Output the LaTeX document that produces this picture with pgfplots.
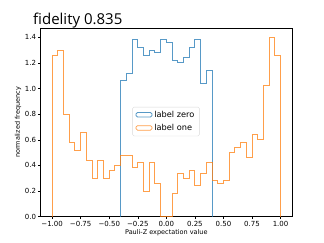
\documentclass[border=0pt]{standalone}
\usepackage{pgfplots}
\pgfplotsset{compat=1.18}
\usepackage{fontspec}
\setmainfont{DejaVu Sans}
\newfontfamily\titlefont{Open Sans}
\definecolor{tabblue}{HTML}{1F77B4}
\definecolor{taborange}{HTML}{FF7F0E}
\begin{document}
\begin{tikzpicture}
\begin{axis}[
  name=ax,
  at={(0,0)}, anchor=south west,
  scale only axis,
  width=251.3pt, height=188.4pt,
  xmin=-1.1, xmax=1.1, ymin=0, ymax=1.47,
  axis line style={black, line width=0.5pt},
  tick align=outside, tick pos=left,
  major tick length=2.5pt,
  every tick/.style={black, line width=0.5pt},
  xtick={-1,-0.75,-0.5,-0.25,0,0.25,0.5,0.75,1},
  xticklabels={−1.00,−0.75,−0.50,−0.25,0.00,0.25,0.50,0.75,1.00},
  ytick={0,0.2,0.4,0.6,0.8,1.0,1.2,1.4},
  yticklabels={0.0,0.2,0.4,0.6,0.8,1.0,1.2,1.4},
  tick label style={font=\fontsize{7}{8}\selectfont},
  xticklabel style={inner sep=1pt, yshift=-0.5pt},
  yticklabel style={inner sep=1pt, xshift=-1pt},
  xlabel={Pauli-Z expectation value},
  ylabel={normalized frequency},
  every axis x label/.style={at={(axis description cs:0.5,-0.0865)}, anchor=center, font=\fontsize{6.5}{8}\selectfont},
  every axis y label/.style={at={(axis description cs:-0.0903,0.5)}, anchor=center, rotate=90, font=\fontsize{6.5}{8}\selectfont},
  legend style={at={(axis description cs:0.4986,0.505)}, anchor=center,
    draw=black!15, rounded corners=1.5pt, fill=white, fill opacity=0.8, text opacity=1,
    font=\fontsize{8.2}{9.5}\selectfont, inner xsep=3pt, inner ysep=2pt, row sep=1.5pt},
  legend cell align=left,
  legend image code/.code={\draw[#1, line width=0.8pt] (0pt,-2pt) rectangle (16pt,2.5pt);},
]
\addplot[const plot, draw=tabblue, draw opacity=0.75, line width=1pt] coordinates {
(-0.40,0) (-0.40,1.06) (-0.35,1.12) (-0.30,1.38) (-0.25,1.32) (-0.20,1.26) (-0.15,1.30)
(-0.10,1.28) (-0.05,1.38) (0.00,1.36) (0.05,1.22) (0.10,1.20) (0.15,1.24) (0.20,1.32)
(0.25,1.38) (0.30,1.04) (0.35,1.14) (0.40,0)
};
\addlegendentry{label zero}
\addplot[const plot, draw=taborange, draw opacity=0.75, line width=1pt] coordinates {
(-1.00,0) (-1.00,1.26) (-0.95,1.30) (-0.90,0.80) (-0.85,0.58) (-0.80,0.52) (-0.75,0.66)
(-0.70,0.44) (-0.65,0.30) (-0.60,0.44) (-0.55,0.30) (-0.50,0.36) (-0.45,0.40)
(-0.40,0.48) (-0.35,0.48) (-0.30,0.38) (-0.25,0.42) (-0.20,0.20) (-0.15,0.42)
(-0.10,0.26) (-0.05,0.00) (0.00,0.00) (0.05,0.18) (0.10,0.34) (0.15,0.30) (0.20,0.36)
(0.25,0.24) (0.30,0.34) (0.35,0.42) (0.40,0.28) (0.45,0.26) (0.50,0.28) (0.55,0.50)
(0.60,0.54) (0.65,0.58) (0.70,0.46) (0.75,0.64) (0.80,0.60) (0.85,1.02) (0.90,1.40)
(0.95,1.26) (1.00,0)
};
\addlegendentry{label one}
\end{axis}
\node[anchor=base west, inner sep=0pt, font=\titlefont\fontsize{15}{18}\selectfont] at (-7.7pt,191.7pt) {fidelity 0.835};
\path[use as bounding box] (-40.7pt,-26.3pt) rectangle (283.3pt,216.7pt);
\end{tikzpicture}
\end{document}
